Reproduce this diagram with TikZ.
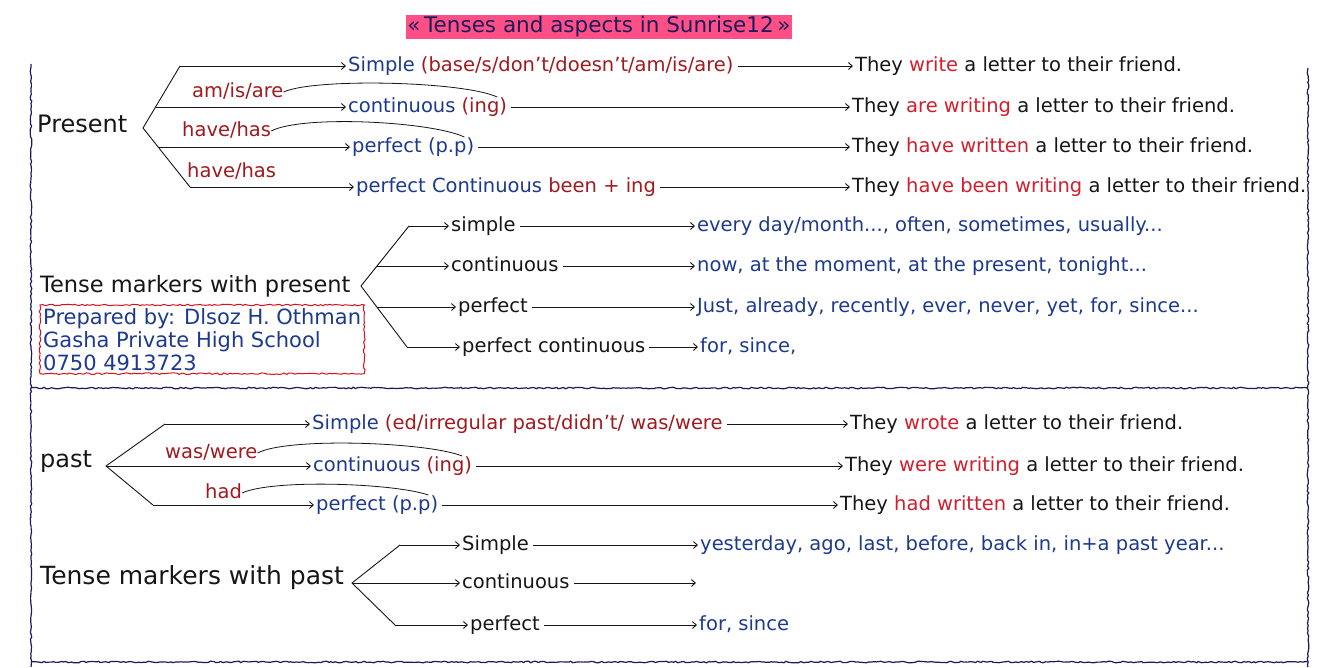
\documentclass[tikz,border=0pt]{standalone}
\usepackage{fontspec}
\setmainfont{DejaVu Sans}
\usetikzlibrary{arrows.meta,calc,decorations.pathmorphing}
\definecolor{ink}{HTML}{161616}
\definecolor{navy}{HTML}{1E3A8F}
\definecolor{maroon}{HTML}{A11A1F}
\definecolor{redw}{HTML}{D41E2E}
\definecolor{frameblue}{HTML}{1B1B5A}
\definecolor{hilite}{HTML}{FF4F86}
\definecolor{boxred}{HTML}{D8101C}
\newcommand{\hw}[1]{\fontsize{#1}{#1}\selectfont}
\newcommand{\mr}[1]{\textcolor{maroon}{#1}}
\newcommand{\rw}[1]{\textcolor{redw}{#1}}

\begin{document}
\begin{tikzpicture}[x=1pt,y=-1pt,
    txt/.style={anchor=west, inner sep=0pt, text height=15pt, text depth=5pt, font=\hw{19.5}},
    arr/.style={-{Straight Barb[length=4pt,width=7pt]}, line width=0.9pt, ink, shorten >=2pt},
    link/.style={arr, shorten <=4pt},
    br/.style={line width=0.9pt, ink},
    hook/.style={line width=0.8pt, ink},
    wavy/.style={line width=1.2pt, decorate, decoration={random steps, segment length=2.5pt, amplitude=0.8pt}}]

    \useasboundingbox (0,0) rectangle (1327,667);
    \fill[white] (0,0) rectangle (1327,667);

    % frame
    \draw[wavy, frameblue] (31,64) -- (31,667);
    \draw[wavy, frameblue] (1308,68) -- (1308,667);
    \draw[wavy, frameblue] (31,388) -- (1308,388);
    \draw[wavy, frameblue] (31,662) -- (1308,662);

    \node[fill=hilite, text=frameblue, inner sep=1.5pt, font=\hw{21.5}] (title) at (599,27) {«\,Tenses and aspects in Sunrise12\,»};

    % present
    \node[txt, ink, font=\hw{24}] (pres) at (37,127) {Present};
    \coordinate (pr) at (143,128);
    \coordinate (pr1) at (180,66);
    \coordinate (pr2) at (155.5,107);
    \coordinate (pr3) at (158,147);
    \coordinate (pr4) at (190,187);

    \node[txt, navy] (ps) at (348,66) {Simple \mr{(base/s/don't/doesn't/am/is/are)}};
    \node[txt, navy] (pc) at (348,107) {continuous \mr{(ing)}};
    \node[txt, navy] (pp) at (352,147) {perfect (p.p)};
    \node[txt, navy] (ppc) at (356,187) {perfect Continuous \mr{been + ing}};

    \node[txt, maroon] (l1) at (192,92) {am/is/are};
    \node[txt, maroon] (l2) at (182,131) {have/has};
    \node[txt, maroon] (l3) at (187,172) {have/has};

    \node[txt, ink] (e1) at (855,66) {They \rw{write} a letter to their friend.};
    \node[txt, ink] (e2) at (852,107) {They \rw{are writing} a letter to their friend.};
    \node[txt, ink] (e3) at (852,147) {They \rw{have written} a letter to their friend.};
    \node[txt, ink] (e4) at (852,187) {They \rw{have been writing} a letter to their friend.};

    \draw[br] (pr1) -- (pr) -- (pr4);
    \draw[arr] (pr1) -- (ps.west);
    \draw[arr] (pr2) -- (pc.west);
    \draw[arr] (pr3) -- (pp.west);
    \draw[arr] (pr4) -- (ppc.west);
    \foreach \a/\b in {ps/e1,pc/e2,pp/e3,ppc/e4}
        \draw[link] (\a.east) -- (\b.west);
    \draw[hook] (l1.east) .. controls +(30,-14) and +(-35,-16) .. ($(pc.east)+(-10,-10)$);
    \draw[hook] (l2.east) .. controls +(30,-16) and +(-35,-16) .. ($(pp.east)+(-10,-10)$);

    % tense markers with present
    \node[txt, ink, font=\hw{22.5}] (tmp) at (40,287) {Tense markers with present};
    \coordinate (tp) at (361,286);
    \coordinate (tp1) at (409,226);
    \coordinate (tp2) at (377,266);
    \coordinate (tp3) at (377,307);
    \coordinate (tp4) at (407,347);
    \node[txt, ink] (ms) at (451,226) {simple};
    \node[txt, ink] (mc) at (451,266) {continuous};
    \node[txt, ink] (mp) at (458,307) {perfect};
    \node[txt, ink] (mpc) at (462,347) {perfect continuous};
    \node[txt, navy] (ws) at (697,226) {every day/month..., often, sometimes, usually...};
    \node[txt, navy] (wc) at (697,266) {now, at the moment, at the present, tonight...};
    \node[txt, navy] (wp) at (697,307) {Just, already, recently, ever, never, yet, for, since...};
    \node[txt, navy] (wpc) at (700,347) {for, since,};

    \draw[br] (tp1) -- (tp) -- (tp4);
    \draw[arr] (tp1) -- (ms.west);
    \draw[arr] (tp2) -- (mc.west);
    \draw[arr] (tp3) -- (mp.west);
    \draw[arr] (tp4) -- (mpc.west);
    \foreach \a/\b in {ms/ws,mc/wc,mp/wp,mpc/wpc}
        \draw[link] (\a.east) -- (\b.west);

    \node[text=navy, anchor=north west, align=left, inner sep=3pt,
          font=\fontsize{21}{23}\selectfont] (prep) at (40,305)
          {Prepared by: Dlsoz H. Othman\\Gasha Private High School\\0750 4913723};
    \draw[wavy, boxred, line width=1pt] (prep.south west) rectangle (prep.north east);

    % past
    \node[txt, ink, font=\hw{24}] (past) at (40,462) {past};
    \coordinate (pa) at (106,466);
    \coordinate (pa1) at (165,424);
    \coordinate (pa3) at (153,505);

    \node[txt, navy] (qs) at (312,424) {Simple \mr{(ed/irregular past/didn't/ was/were}};
    \node[txt, navy] (qc) at (313,466) {continuous \mr{(ing)}};
    \node[txt, navy] (qp) at (316,505) {perfect (p.p)};

    \node[txt, maroon] (k1) at (165,453) {was/were};
    \node[txt, maroon] (k2) at (205,493) {had};

    \node[txt, ink] (f1) at (850,424) {They \rw{wrote} a letter to their friend.};
    \node[txt, ink] (f2) at (845,466) {They \rw{were writing} a letter to their friend.};
    \node[txt, ink] (f3) at (840,505) {They \rw{had written} a letter to their friend.};

    \draw[br] (pa1) -- (pa) -- (pa3);
    \draw[arr] (pa1) -- (qs.west);
    \draw[arr] (pa) -- (qc.west);
    \draw[arr] (pa3) -- (qp.west);
    \foreach \a/\b in {qs/f1,qc/f2,qp/f3}
        \draw[link] (\a.east) -- (\b.west);
    \draw[hook] (k1.east) .. controls +(30,-16) and +(-35,-14) .. ($(qc.east)+(-10,-10)$);
    \draw[hook] (k2.east) .. controls +(30,-14) and +(-35,-12) .. ($(qp.east)+(-10,-10)$);

    % tense markers with past
    \node[txt, ink, font=\hw{25}] (tma) at (40,579) {Tense markers with past};
    \coordinate (ta) at (352,583);
    \coordinate (ta1) at (400,545);
    \coordinate (ta3) at (395,625);
    \node[txt, ink] (ns) at (462,545) {Simple};
    \node[txt, ink] (nc) at (462,583) {continuous};
    \node[txt, ink] (np) at (470,625) {perfect};
    \node[txt, navy] (ys) at (700,545) {yesterday, ago, last, before, back in, in+a past year...};
    \coordinate (yc) at (696,583);
    \node[txt, navy] (yp) at (699,625) {for, since};

    \draw[br] (ta1) -- (ta) -- (ta3);
    \draw[arr] (ta1) -- (ns.west);
    \draw[arr] (ta) -- (nc.west);
    \draw[arr] (ta3) -- (np.west);
    \draw[link] (ns.east) -- (ys.west);
    \draw[link, shorten >=0pt] (nc.east) -- (yc);
    \draw[link] (np.east) -- (yp.west);

\end{tikzpicture}
\end{document}
